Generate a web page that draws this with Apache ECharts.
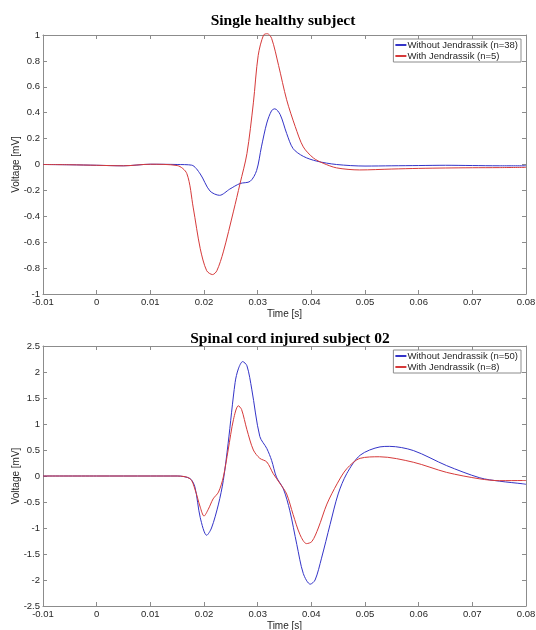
<!DOCTYPE html>
<html>
<head>
<meta charset="utf-8">
<script src="https://cdn.jsdelivr.net/npm/echarts@6/dist/echarts.min.js"></script>
<style>
  html, body { margin: 0; padding: 0; background: #fff; }
  #main { width: 536px; height: 630px; }
</style>
</head>
<body>
<div id="main"></div>
<script>
// top panel: single healthy subject
var t1Without = [-0.01, -0.005, 0, 0.005, 0.01, 0.015, 0.0177, 0.0193, 0.0211, 0.0229, 0.0248, 0.0267, 0.0286, 0.0298, 0.0307, 0.0317, 0.0326, 0.0332, 0.0342, 0.0354, 0.0366, 0.0385, 0.041, 0.0447, 0.05, 0.055, 0.06, 0.065, 0.07, 0.075, 0.08];
var v1Without = [0, -0.002, -0.006, -0.01, 0.002, 0, -0.005, -0.073, -0.204, -0.238, -0.19, -0.147, -0.13, -0.047, 0.136, 0.32, 0.416, 0.43, 0.385, 0.24, 0.123, 0.063, 0.026, 0, -0.012, -0.01, -0.008, -0.006, -0.008, -0.01, -0.01];
var t1With = [-0.01, -0.005, 0, 0.005, 0.01, 0.015, 0.0168, 0.018, 0.0193, 0.0205, 0.0216, 0.0224, 0.0236, 0.0255, 0.0267, 0.028, 0.0292, 0.0301, 0.0311, 0.0318, 0.0326, 0.0339, 0.0354, 0.037, 0.0385, 0.0404, 0.0422, 0.0447, 0.049, 0.055, 0.06, 0.065, 0.07, 0.075, 0.08];
var v1With = [0, -0.002, -0.006, -0.01, 0.002, -0.008, -0.07, -0.335, -0.65, -0.82, -0.85, -0.82, -0.675, -0.36, -0.15, 0.084, 0.476, 0.843, 1.0, 1.01, 0.974, 0.764, 0.5, 0.293, 0.136, 0.05, 0.01, -0.026, -0.042, -0.035, -0.03, -0.027, -0.025, -0.024, -0.022];

// bottom panel: spinal cord injured subject 02
var t2Without = [-0.01, 0, 0.01, 0.015, 0.0174, 0.0183, 0.0193, 0.0205, 0.0214, 0.0227, 0.0236, 0.0245, 0.0258, 0.0264, 0.0272, 0.028, 0.0289, 0.0304, 0.0317, 0.0326, 0.0335, 0.0348, 0.036, 0.0373, 0.0385, 0.0398, 0.0407, 0.0419, 0.0435, 0.045, 0.0466, 0.0491, 0.0528, 0.0546, 0.059, 0.0652, 0.0714, 0.0751, 0.0794, 0.08];
var v2Without = [0, 0, 0, 0, -0.05, -0.21, -0.8, -1.14, -1.0, -0.54, -0.085, 0.63, 1.8, 2.06, 2.2, 2.12, 1.67, 0.76, 0.53, 0.3, -0.02, -0.25, -0.67, -1.32, -1.875, -2.08, -2.0, -1.58, -0.93, -0.345, 0.046, 0.4, 0.56, 0.57, 0.49, 0.2, -0.035, -0.1, -0.15, -0.16];
var t2With = [-0.01, 0, 0.01, 0.015, 0.0174, 0.0183, 0.0193, 0.02, 0.0208, 0.0217, 0.0227, 0.0236, 0.0245, 0.0255, 0.0264, 0.027, 0.028, 0.0292, 0.0304, 0.0317, 0.0329, 0.0342, 0.0354, 0.0366, 0.0379, 0.0391, 0.0401, 0.0413, 0.0429, 0.0448, 0.0466, 0.0491, 0.0527, 0.059, 0.0652, 0.0714, 0.0751, 0.0794, 0.08];
var v2With = [0, 0, 0, 0, -0.05, -0.25, -0.6, -0.77, -0.64, -0.44, -0.31, -0.02, 0.5, 1.09, 1.35, 1.28, 0.89, 0.5, 0.34, 0.27, 0.045, -0.15, -0.345, -0.74, -1.13, -1.3, -1.26, -1.0, -0.54, -0.15, 0.14, 0.34, 0.37, 0.265, 0.07, -0.055, -0.09, -0.087, -0.087];

var titles = ['Single healthy subject', 'Spinal cord injured subject 02'];
var names1 = ['Without Jendrassik (n=38)', 'With Jendrassik (n=5)'];
var names2 = ['Without Jendrassik (n=50)', 'With Jendrassik (n=8)'];

function zip(ts, vs) {
  return ts.map(function (t, i) { return [t, vs[i]]; });
}

var blue = '#3434c8';
var red = '#d63a3a';
var axisCol = '#8c8c8c';
var txtCol = '#262626';
var sans = 'Liberation Sans';

function xAx(grid, top) {
  return {
    type: 'value', gridIndex: grid, position: top ? 'top' : 'bottom',
    min: -0.01, max: 0.08, interval: 0.01,
    name: top ? '' : 'Time [s]', nameLocation: 'middle', nameGap: 15, nameMoveOverlap: false,
    nameTextStyle: { color: txtCol, fontSize: 10, fontFamily: sans },
    axisLine: { show: true, onZero: false, lineStyle: { color: axisCol, width: 1 } },
    axisTick: { show: true, inside: true, length: 4, lineStyle: { color: axisCol } },
    axisLabel: {
      show: !top, color: txtCol, fontSize: 9.5, fontFamily: sans, margin: 3,
      formatter: function (v) { return String(+v.toFixed(2)); }
    },
    splitLine: { show: false }
  };
}

function yAx(grid, right, min, max, step) {
  return {
    type: 'value', gridIndex: grid, position: right ? 'right' : 'left',
    min: min, max: max, interval: step,
    name: right ? '' : 'Voltage [mV]', nameLocation: 'middle', nameGap: 22, nameMoveOverlap: false,
    nameTextStyle: { color: txtCol, fontSize: 10, fontFamily: sans },
    axisLine: { show: true, onZero: false, lineStyle: { color: axisCol, width: 1 } },
    axisTick: { show: true, inside: true, length: 4, lineStyle: { color: axisCol } },
    axisLabel: {
      show: !right, color: txtCol, fontSize: 9.5, fontFamily: sans, margin: 3,
      formatter: function (v) { return String(+v.toFixed(1)); }
    },
    splitLine: { show: false }
  };
}

function line(name, data, color, xi, yi) {
  return {
    name: name, type: 'line', xAxisIndex: xi, yAxisIndex: yi,
    data: data, smooth: 0.3,
    symbol: 'none', showSymbol: false, clip: false,
    lineStyle: { color: color, width: 1 }, itemStyle: { color: color },
    animation: false
  };
}

function legend(top, names) {
  return {
    orient: 'vertical', right: 15, top: top,
    data: names,
    itemWidth: 11, itemHeight: 8, itemGap: 1,
    padding: [1, 3, 1, 1],
    itemStyle: { opacity: 0 },
    backgroundColor: '#fff', borderColor: axisCol, borderWidth: 1,
    textStyle: { color: txtCol, fontSize: 9.5, fontFamily: sans, lineHeight: 9, padding: [0, 0, 0, -4] }
  };
}

var chart = echarts.init(document.getElementById('main'), null, { renderer: 'canvas' });
chart.setOption({
  backgroundColor: '#fff',
  animation: false,
  title: [
    { text: titles[0], left: 278, top: 8, textAlign: 'center',
      textStyle: { fontFamily: 'Liberation Serif', fontWeight: 'bold', fontSize: 15.5, color: '#000' } },
    { text: titles[1], left: 285, top: 326, textAlign: 'center',
      textStyle: { fontFamily: 'Liberation Serif', fontWeight: 'bold', fontSize: 15.5, color: '#000' } }
  ],
  legend: [legend(39, names1), legend(350, names2)],
  grid: [
    { left: 43, right: 10, top: 35, height: 259, outerBoundsMode: 'none', containLabel: false },
    { left: 43, right: 10, top: 346, height: 260, outerBoundsMode: 'none', containLabel: false }
  ],
  xAxis: [xAx(0, false), xAx(0, true), xAx(1, false), xAx(1, true)],
  yAxis: [yAx(0, false, -1, 1, 0.2), yAx(0, true, -1, 1, 0.2), yAx(1, false, -2.5, 2.5, 0.5), yAx(1, true, -2.5, 2.5, 0.5)],
  series: [
    line(names1[0], zip(t1Without, v1Without), blue, 0, 0),
    line(names1[1], zip(t1With, v1With), red, 0, 0),
    line(names2[0], zip(t2Without, v2Without), blue, 2, 2),
    line(names2[1], zip(t2With, v2With), red, 2, 2)
  ]
});
</script>
</body>
</html>
